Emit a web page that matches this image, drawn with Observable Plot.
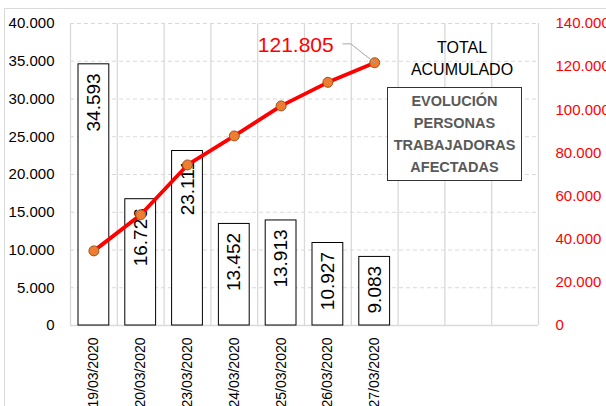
<!DOCTYPE html>
<html>
<head>
<meta charset="utf-8">
<script src="https://cdn.jsdelivr.net/npm/d3@7"></script>
<script src="https://cdn.jsdelivr.net/npm/@observablehq/plot@0.6"></script>
<style>
  html, body { margin: 0; padding: 0; background: #fff; }
  #wrap { position: relative; width: 606px; height: 406px; overflow: hidden; font-family: "Liberation Sans", Arial, sans-serif; }
  #frame { position: absolute; left: 4px; top: 8px; width: 640px; height: 440px; border-top: 1px solid #d9d9d9; border-left: 1px solid #d9d9d9; }
  #total { position: absolute; left: 392px; top: 37px; width: 140px; text-align: center; font-size: 16px; line-height: 22px; color: #000; }
  #box { position: absolute; left: 387px; top: 87px; width: 133px; height: 90px; border: 1.5px solid #333; background: #fff; text-align: center; font-weight: bold; font-size: 14.5px; line-height: 22px; color: #595959; box-sizing: content-box; padding-top: 2px; }
</style>
</head>
<body>
<div id="wrap">
  <div id="frame"></div>
  <div id="chart"></div>
  <div id="total">TOTAL<br>ACUMULADO</div>
  <div id="box">EVOLUCIÓN<br>PERSONAS<br>TRABAJADORAS<br>AFECTADAS</div>
</div>
<script>
// Data
const dates = ["19/03/2020", "20/03/2020", "23/03/2020", "24/03/2020", "25/03/2020", "26/03/2020", "27/03/2020"];
const daily = [34593, 16726, 23111, 13452, 13913, 10927, 9083];
const cumulative = [34593, 51319, 74430, 87882, 101795, 112722, 121805];
const leftTicks = [0, 5000, 10000, 15000, 20000, 25000, 30000, 35000, 40000];
const rightTicks = [0, 20000, 40000, 60000, 80000, 100000, 120000, 140000];
const totalLabel = "121.805";
const slotCount = 10; // category slots on the axis (7 used)

const ratio = 140000 / 40000; // secondary axis factor
const fmt = d3.formatLocale({decimal: ",", thousands: ".", grouping: [3], currency: ["", "€"]}).format(",");

const rows = dates.map((d, i) => ({date: d, i, v: daily[i], c: cumulative[i] / ratio}));
const last = rows[rows.length - 1];
const leader = [
  {x: last.i + 0.5, y: last.c},
  {x: last.i + 0.5 - 0.51, y: last.c + 2500},
  {x: last.i + 0.5 - 0.68, y: last.c + 2500}
];

const red = "#ff0000";
const grid = "#d9d9d9";

const chart = Plot.plot({
  width: 606,
  height: 406,
  marginLeft: 70,
  marginRight: 68,
  marginTop: 23,
  marginBottom: 81,
  x: {type: "linear", domain: [0, slotCount], axis: null},
  y: {domain: [0, 40000], axis: null},
  style: {fontFamily: "Liberation Sans, Arial, sans-serif", background: "transparent", overflow: "visible"},
  marks: [
    Plot.ruleY(leftTicks.filter(v => v > 0), {stroke: grid, strokeWidth: 1, strokeDasharray: "4,3"}),
    Plot.ruleX(d3.range(slotCount + 1), {y1: 0, y2: 40000, stroke: grid, strokeWidth: 1.3}),
    Plot.ruleY([0], {stroke: grid, strokeWidth: 1.3}),
    Plot.rectY(rows, {x1: d => d.i, x2: d => d.i + 1, y: "v", insetLeft: 8, insetRight: 8, fill: "#fff", stroke: "#000", strokeWidth: 1}),
    Plot.text(rows, {x: d => d.i + 0.5, y: "v", text: d => fmt(d.v), rotate: -90, textAnchor: "end", lineAnchor: "middle", dy: 9, fontSize: 19, fill: "#000"}),
    Plot.line(rows, {x: d => d.i + 0.5, y: "c", stroke: red, strokeWidth: 3.8}),
    Plot.dot(rows, {x: d => d.i + 0.5, y: "c", r: 5, fill: "#ED7D31", stroke: "#A0521C", strokeWidth: 1}),
    Plot.line(leader, {x: "x", y: "y", stroke: "#a6a6a6", strokeWidth: 1}),
    Plot.text([last], {x: d => d.i + 0.5, y: "c", text: () => totalLabel, textAnchor: "end", lineAnchor: "middle", dx: -41, dy: -17, fontSize: 21, fill: red}),
    Plot.text(leftTicks, {x: 0, y: d => d, text: d => fmt(d), textAnchor: "end", lineAnchor: "middle", dx: -16, fontSize: 15, fill: "#000"}),
    Plot.text(rightTicks, {x: slotCount, y: d => d / ratio, text: d => fmt(d), textAnchor: "start", lineAnchor: "middle", dx: 17, fontSize: 15, fill: red}),
    Plot.text(rows, {x: d => d.i + 0.5, y: 0, text: "date", rotate: -90, textAnchor: "end", lineAnchor: "middle", dy: 12, fontSize: 14, fill: "#000"})
  ]
});
document.getElementById("chart").appendChild(chart);
</script>
</body>
</html>
